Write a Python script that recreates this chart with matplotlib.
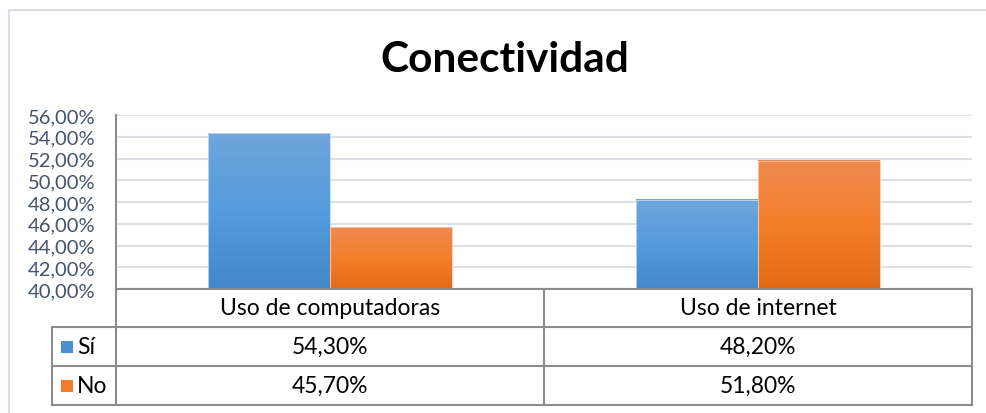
import matplotlib
matplotlib.use("Agg")
import matplotlib.pyplot as plt
import numpy as np
from matplotlib.patches import Rectangle
from matplotlib.lines import Line2D
from matplotlib.colors import LinearSegmentedColormap

# Datos
categorias = ["Uso de computadoras", "Uso de internet"]
series = ["Sí", "No"]
valores_si = [0.543, 0.482]
valores_no = [0.457, 0.518]
etiquetas_si = ["54,30%", "48,20%"]
etiquetas_no = ["45,70%", "51,80%"]
ticks_y = [0.40, 0.42, 0.44, 0.46, 0.48, 0.50, 0.52, 0.54, 0.56]

plt.rcParams['font.family'] = ['Lato', 'DejaVu Sans']

W, H = 987, 414
fig = plt.figure(figsize=(W / 100, H / 100), dpi=100)

def fx(x):
    return x / W

def fy(y):
    return 1 - y / H

# Marco exterior
fig.add_artist(Rectangle((fx(9), fy(420)), fx(990) - fx(9), fy(11) - fy(420),
                         transform=fig.transFigure, fill=False,
                         edgecolor='#D9DEE6', linewidth=1.5))

# Titulo
fig.text(fx(505), fy(60), "Conectividad", ha='center', va='center',
         fontsize=30.5, fontweight='bold', color='black')

# Area del grafico
ax = fig.add_axes([fx(116), fy(290), fx(972) - fx(116), fy(116) - fy(290)])
ax.set_xlim(-0.5, 1.5)
ax.set_ylim(0.40, 0.56)
ax.set_yticks(ticks_y)
ax.set_yticklabels([("%.2f%%" % (t * 100)).replace('.', ',') for t in ticks_y],
                   fontsize=14.5, color='#44546A')
ax.tick_params(axis='y', length=0, pad=15)
ax.set_xticks([])
for s in ['top', 'right', 'bottom']:
    ax.spines[s].set_visible(False)
ax.spines['left'].set_color('#8C8C8C')
ax.spines['left'].set_linewidth(1.5)
ax.grid(axis='y', color='#DDE1E6', linewidth=1.5)
ax.set_axisbelow(True)

ancho = 0.285
x = np.arange(len(categorias))
cmap_si = LinearSegmentedColormap.from_list('si', ['#4388C9', '#549CDD', '#6FA6DC'])
cmap_no = LinearSegmentedColormap.from_list('no', ['#E26A17', '#F47F2A', '#EF8A50'])
grad = np.linspace(0, 1, 256).reshape(-1, 1)

barras_si = ax.bar(x - ancho / 2, valores_si, ancho, bottom=0, facecolor='none',
                   edgecolor='#C6DBF0', linewidth=0.6, zorder=3)
barras_no = ax.bar(x + ancho / 2, valores_no, ancho, bottom=0, facecolor='none',
                   edgecolor='#F8C9A8', linewidth=0.6, zorder=3)
for barras, cmap in [(barras_si, cmap_si), (barras_no, cmap_no)]:
    for b in barras:
        x0 = b.get_x()
        x1 = x0 + b.get_width()
        top = b.get_height()
        ax.imshow(grad, extent=[x0, x1, 0.40, top], origin='lower', cmap=cmap,
                  aspect='auto', zorder=2)
ax.set_xlim(-0.5, 1.5)
ax.set_ylim(0.40, 0.56)

# Tabla de datos
borde = '#8C8C8C'
lw = 1.5
filas_y = [290, 328, 367, 406]
col_x = [116, 544, 972]
for yy in filas_y:
    x_ini = 116 if yy == 290 else 52
    fig.add_artist(Line2D([fx(x_ini), fx(972)], [fy(yy), fy(yy)], color=borde, linewidth=lw,
                          transform=fig.transFigure))
for xx in col_x:
    fig.add_artist(Line2D([fx(xx), fx(xx)], [fy(290), fy(406)], color=borde, linewidth=lw,
                          transform=fig.transFigure))
fig.add_artist(Line2D([fx(52), fx(52)], [fy(328), fy(406)], color=borde, linewidth=lw,
                      transform=fig.transFigure))

tam_tabla = 16.5
centros = [fx(116) + (fx(972) - fx(116)) * (i + 0.5) / len(categorias) for i in range(len(categorias))]
for i, cat in enumerate(categorias):
    fig.text(centros[i], fy(309), cat, ha='center', va='center', fontsize=tam_tabla, color='black')
    fig.text(centros[i], fy(347.5), etiquetas_si[i], ha='center', va='center', fontsize=tam_tabla, color='black')
    fig.text(centros[i], fy(386.5), etiquetas_no[i], ha='center', va='center', fontsize=tam_tabla, color='black')

for nombre, color, yc in [(series[0], '#4A8FD2', 347.5), (series[1], '#F07D2C', 386.5)]:
    fig.add_artist(Rectangle((fx(61), fy(yc + 6)), fx(12), fy(0) - fy(12),
                             transform=fig.transFigure, facecolor=color, edgecolor='none'))
    fig.text(fx(77), fy(yc), nombre, ha='left', va='center', fontsize=tam_tabla, color='black')

fig.savefig("out.png", dpi=100)
